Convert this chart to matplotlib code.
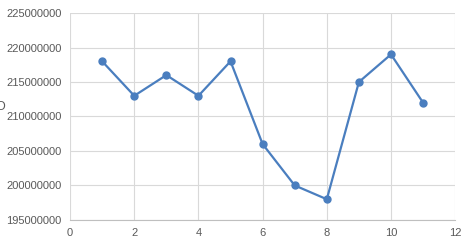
import matplotlib
matplotlib.use('Agg')
import matplotlib.pyplot as plt

plt.rcParams['font.family'] = ['Liberation Sans', 'DejaVu Sans']

x_vals = [1, 2, 3, 4, 5, 6, 7, 8, 9, 10, 11]
y_vals = [218000000, 213000000, 216000000, 213000000, 218000000,
          206000000, 200000000, 198000000, 215000000, 219000000, 212000000]
x_ticks = [0, 2, 4, 6, 8, 10, 12]
y_ticks = [195000000, 200000000, 205000000, 210000000, 215000000, 220000000, 225000000]

fig = plt.figure(figsize=(4.64, 2.46), dpi=100)
ax = fig.add_axes([0.151, 0.106, 0.830, 0.841])

ax.plot(x_vals, y_vals, color='#4A7EBF', lw=1.6, marker='o', ms=5, zorder=3)

ax.set_xlim(0, 12)
ax.set_ylim(195000000, 225000000)
ax.set_xticks(x_ticks)
ax.set_yticks(y_ticks)
ax.set_yticklabels([str(v) for v in y_ticks])
ax.grid(True, color='#D9D9D9', lw=0.8)
ax.set_axisbelow(True)
for s in ['top', 'right', 'left']:
    ax.spines[s].set_visible(False)
ax.spines['bottom'].set_color('#BFBFBF')
ax.spines['bottom'].set_linewidth(0.8)
ax.tick_params(length=0, labelsize=8, colors='#595959', pad=6)

# axis title cut off at the left edge, as in the reference
fig.text(0.0, 0.565, 'O', ha='center', va='center', fontsize=9, color='#595959')

fig.savefig('out.png', dpi=100)
